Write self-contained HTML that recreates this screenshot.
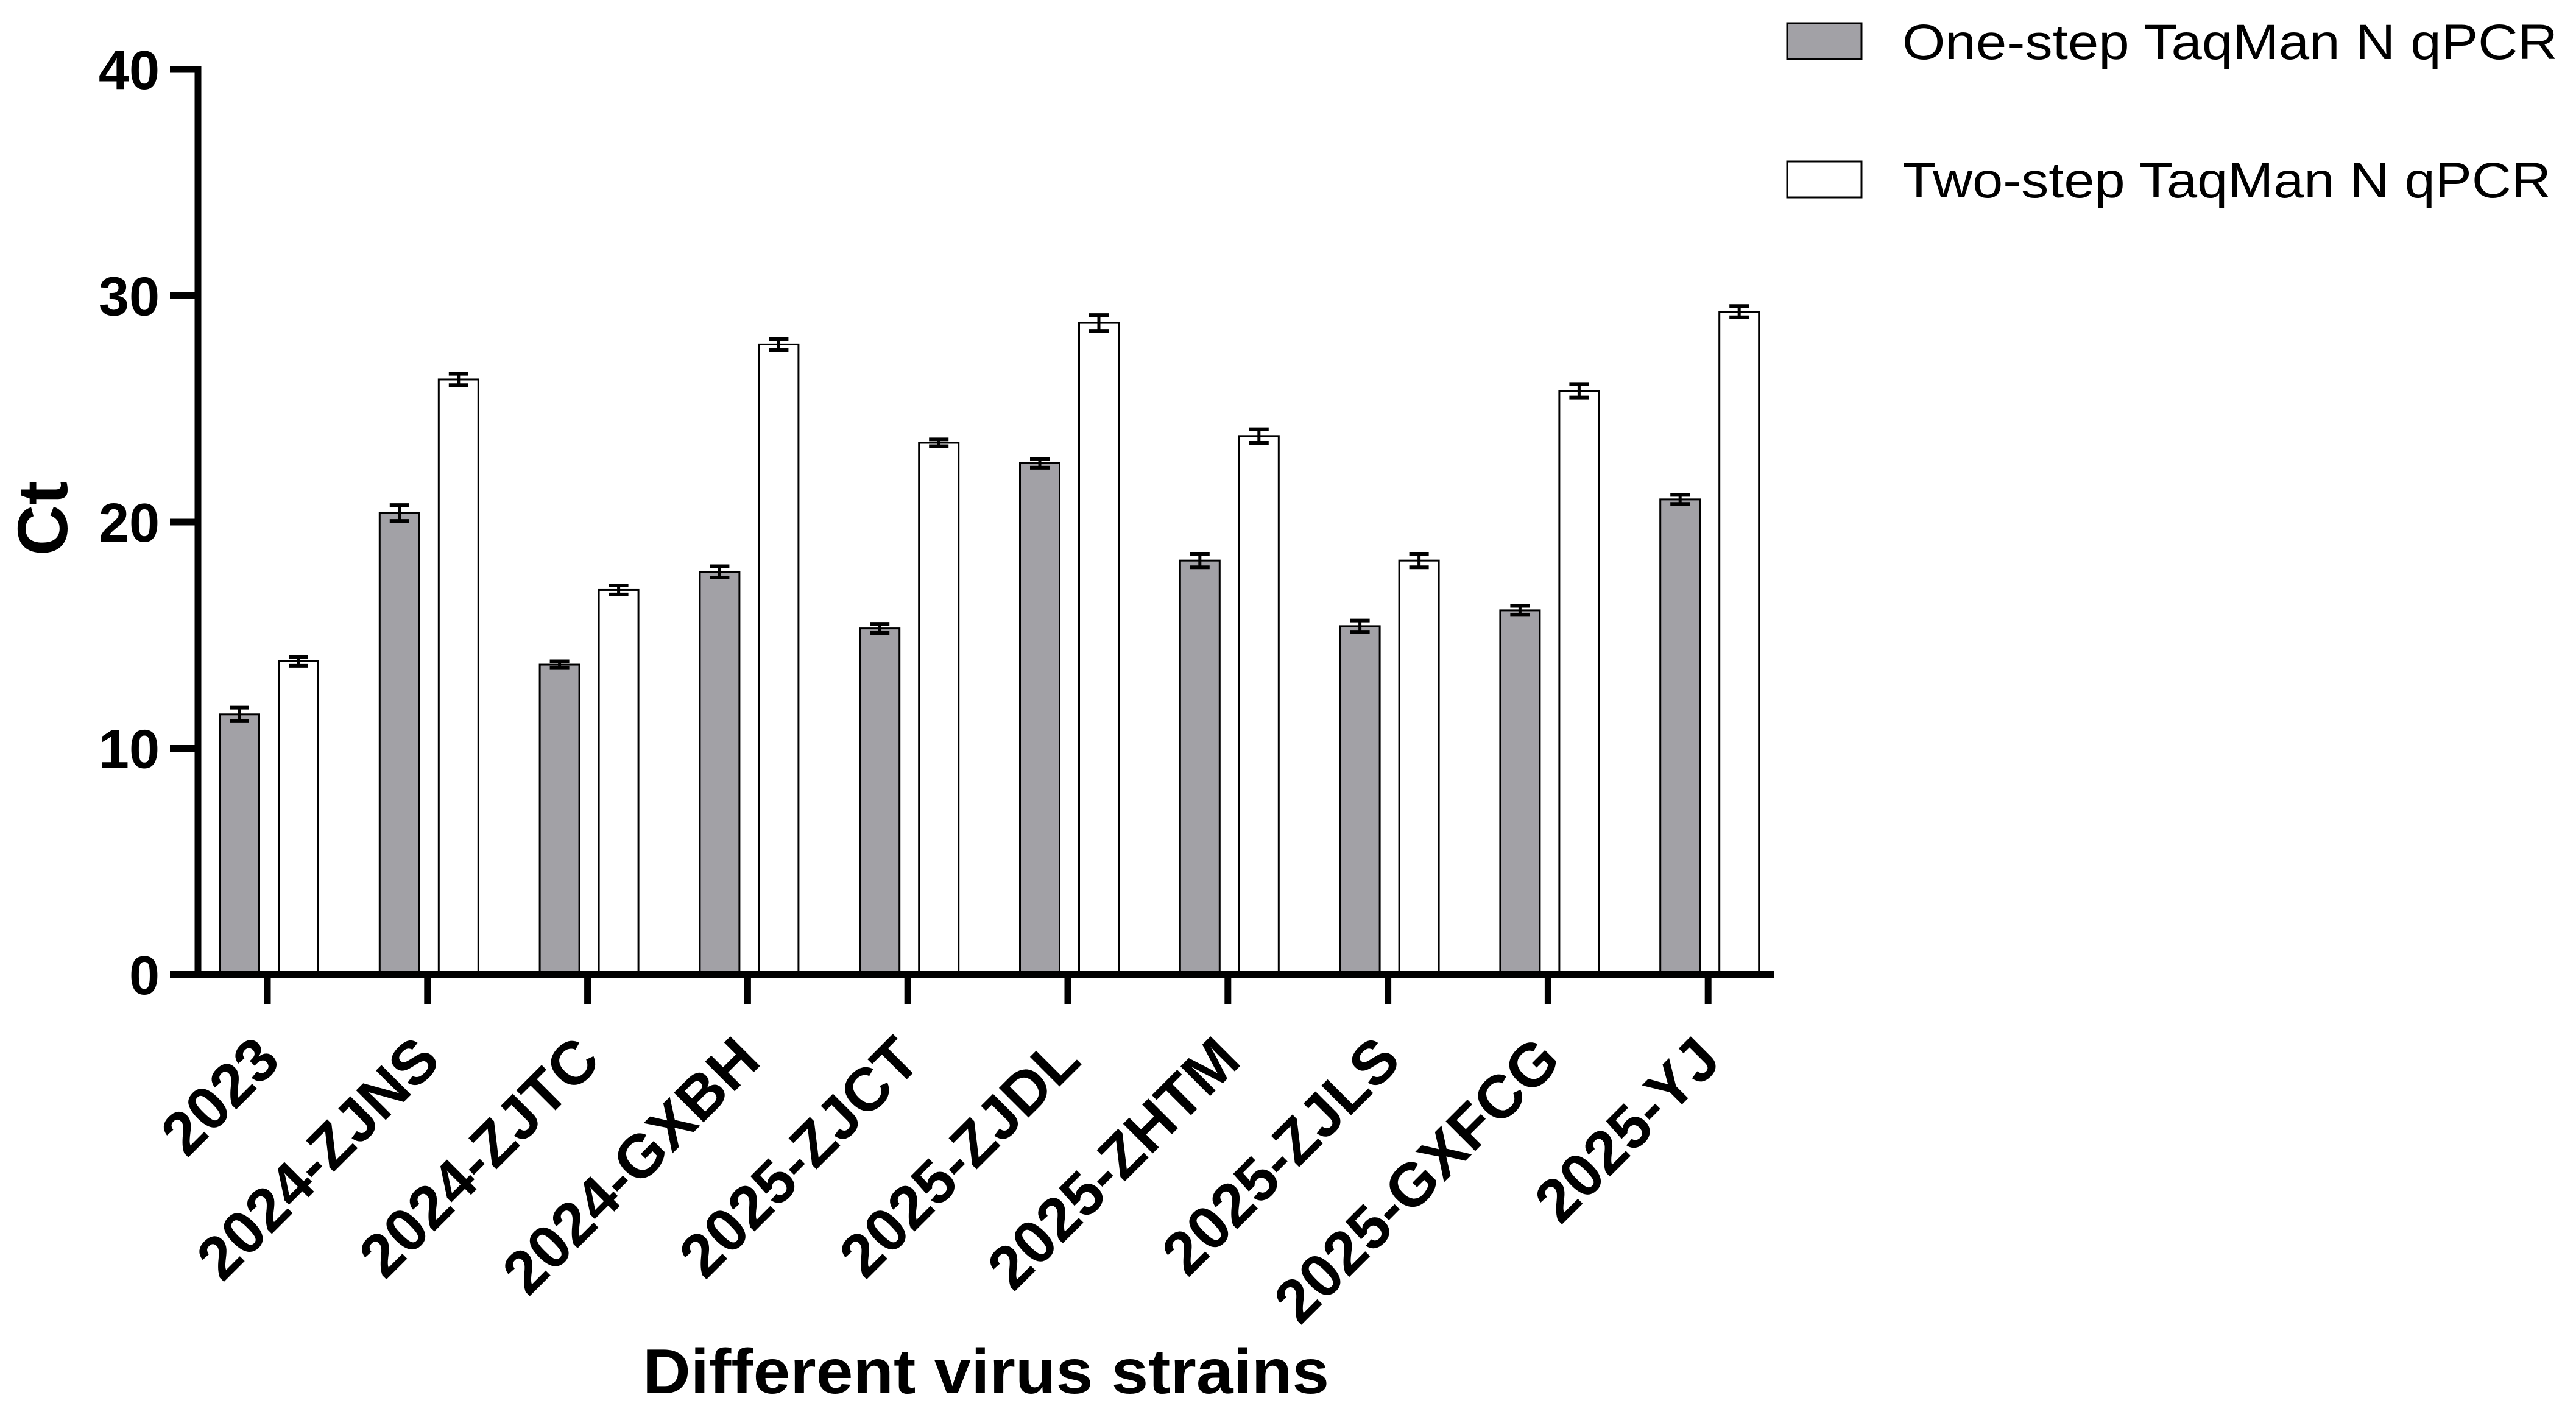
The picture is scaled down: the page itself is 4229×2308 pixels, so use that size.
<!DOCTYPE html>
<html><head><meta charset="utf-8"><style>html,body{margin:0;padding:0;background:#fff}svg{display:block}</style></head>
<body>
<svg id="chart" width="4229" height="2308" viewBox="0 0 4229 2308" xmlns="http://www.w3.org/2000/svg" font-family="Liberation Sans, Arial, sans-serif">
<g id="bars"></g>
<g id="axes"></g>
<text x="0" y="0" transform="translate(110,851) rotate(-90)" text-anchor="middle" font-weight="bold" font-size="116">Ct</text>
<text x="1055" y="2287" font-weight="bold" font-size="104" textLength="1127" lengthAdjust="spacingAndGlyphs">Different virus strains</text>
<g>
<rect x="2934" y="38" width="122" height="59" fill="#a2a1a6" stroke="#000" stroke-width="3"/>
<text x="3123" y="97" font-size="82" textLength="1076" lengthAdjust="spacingAndGlyphs">One-step TaqMan N qPCR</text>
<rect x="2934" y="265" width="122" height="59" fill="#fff" stroke="#000" stroke-width="3"/>
<text x="3123" y="324" font-size="82" textLength="1065" lengthAdjust="spacingAndGlyphs">Two-step TaqMan N qPCR</text>
</g>
</svg>
<script>
const categories = ["2023","2024-ZJNS","2024-ZJTC","2024-GXBH","2025-ZJCT","2025-ZJDL","2025-ZHTM","2025-ZJLS","2025-GXFCG","2025-YJ"];
const oneStep = [11.5,20.4,13.7,17.8,15.3,22.6,18.3,15.4,16.1,21.0];
const oneStepErr = [0.3,0.35,0.15,0.25,0.2,0.2,0.3,0.25,0.2,0.2];
const twoStep = [13.85,26.3,17.0,27.85,23.5,28.8,23.8,18.3,25.8,29.3];
const twoStepErr = [0.2,0.25,0.2,0.25,0.15,0.35,0.3,0.3,0.3,0.25];
const yTicks = [0,10,20,30,40];

const NS="http://www.w3.org/2000/svg";
const y0=1600, yTop=114, yMax=40;
function yScale(v){return y0-(v/yMax)*(y0-yTop);}
function xTick(i){return 439+i*262.8;}
function mk(tag,attrs,parent){const e=document.createElementNS(NS,tag);for(const k in attrs)e.setAttribute(k,attrs[k]);parent.appendChild(e);return e;}
const bars=document.getElementById('bars'), axes=document.getElementById('axes');
const bw=65;
function drawBar(cx,v,err,fill,name){
  const top=yScale(v);
  const r=mk('rect',{x:cx-bw/2,y:top,width:bw,height:y0-top,fill:fill,stroke:'#000','stroke-width':3},bars);
  
  
  const g=mk('g',{stroke:'#000','stroke-width':6},bars);
  
  
  const a=yScale(v+err), b=yScale(v-err);
  mk('line',{x1:cx,x2:cx,y1:a,y2:b,'stroke-width':5},g);
  mk('line',{x1:cx-16,x2:cx+16,y1:a,y2:a},g);
  mk('line',{x1:cx-16,x2:cx+16,y1:b,y2:b},g);
}
categories.forEach((c,i)=>{
  const t=xTick(i);
  drawBar(t-46,oneStep[i],oneStepErr[i],'#a2a1a6','bar-one-step-'+c);
  drawBar(t+51,twoStep[i],twoStepErr[i],'#ffffff','bar-two-step-'+c);
  const tk=mk('line',{x1:t,x2:t,y1:y0,y2:1648,stroke:'#000','stroke-width':11},axes);
  
  
  const lx=t+25, ly=1745;
  const lb=mk('text',{x:lx,y:ly,'text-anchor':'end','font-weight':'bold','font-size':100,transform:`rotate(-45 ${lx} ${ly})`},axes);
  
  
  lb.textContent=c;
});
const ya=mk('line',{x1:325,x2:325,y1:yTop-5,y2:y0+6,stroke:'#000','stroke-width':11},axes);


const xa=mk('line',{x1:279,x2:2913,y1:y0,y2:y0,stroke:'#000','stroke-width':12},axes);


yTicks.forEach(v=>{
  const y=yScale(v);
  const l=mk('line',{x1:279,x2:325,y1:y,y2:y,stroke:'#000','stroke-width':11},axes);
  
  
  const t=mk('text',{x:262,y:y+32,'text-anchor':'end','font-weight':'bold','font-size':90},axes);
  
  
  t.textContent=v;
});
</script>
</body></html>
